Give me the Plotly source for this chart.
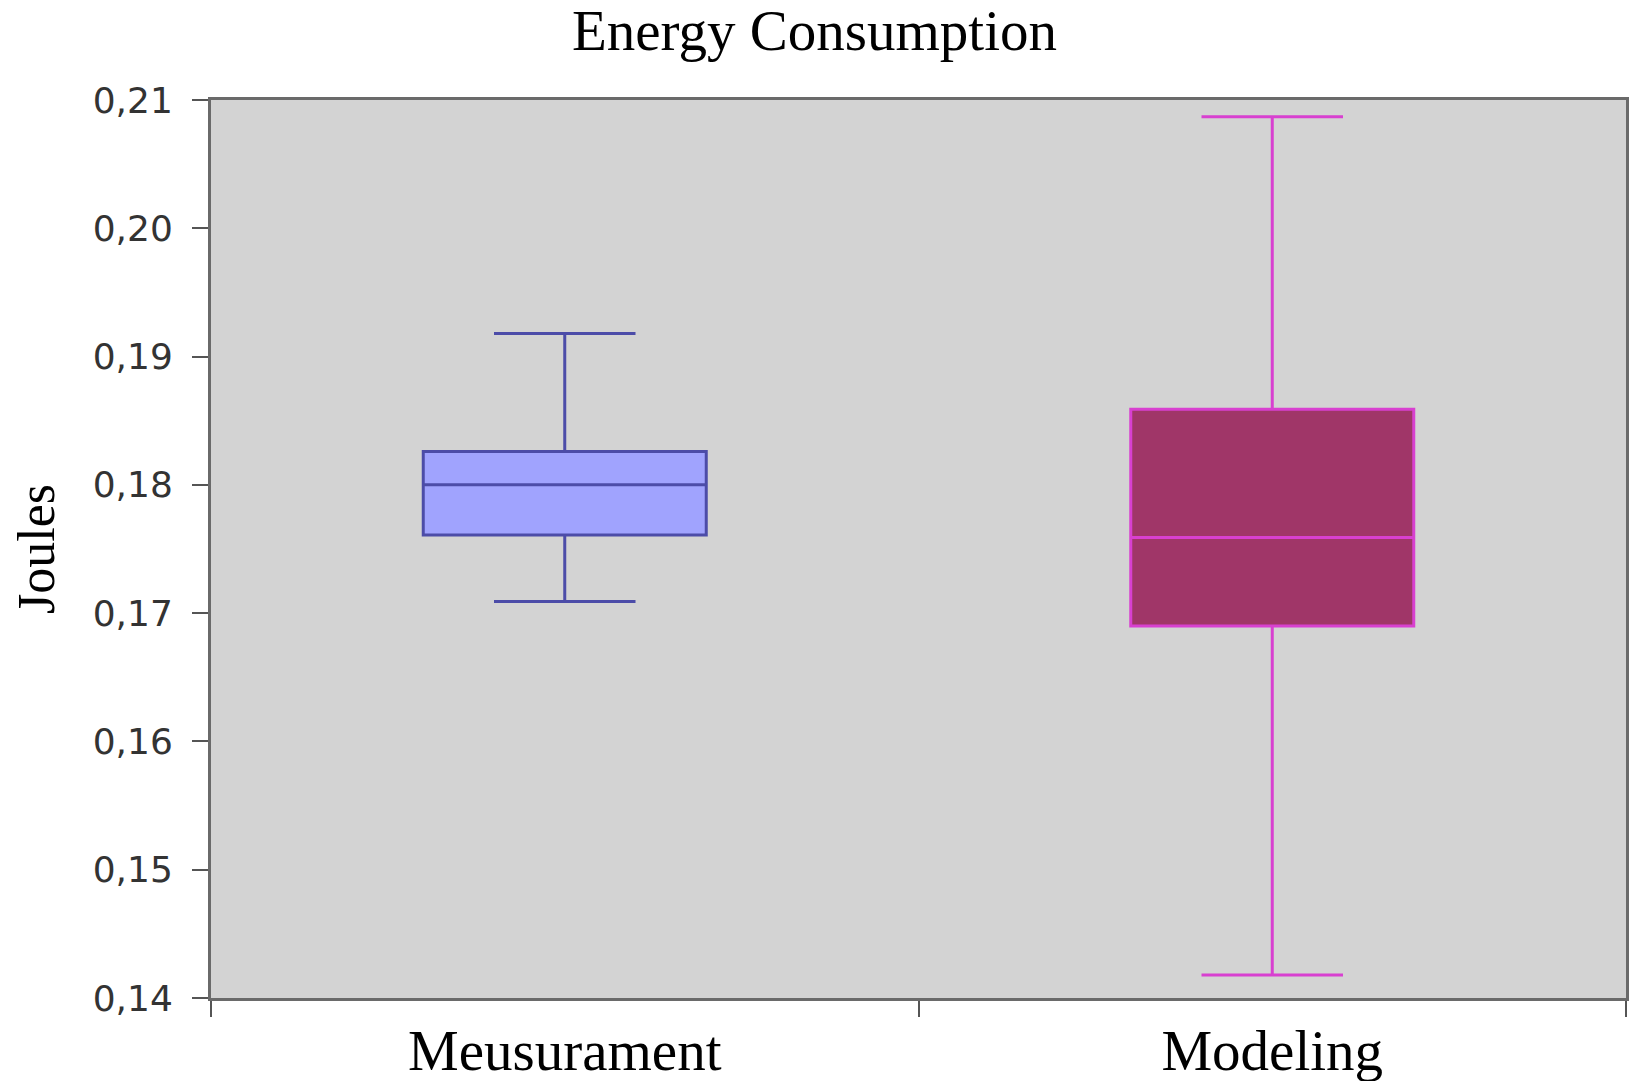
import plotly.graph_objects as go

categories = ["Meusurament", "Modeling"]
q1 = [0.1761, 0.1690]
median = [0.1800, 0.1759]
q3 = [0.1826, 0.1859]
lowerfence = [0.1709, 0.1418]
upperfence = [0.1918, 0.2087]
fill_colors = ["#a0a3fe", "#a03668"]
line_colors = ["#4c4ca8", "#d840d0"]
y_ticks = [0.14, 0.15, 0.16, 0.17, 0.18, 0.19, 0.20, 0.21]

fig = go.Figure()
for i, cat in enumerate(categories):
    fig.add_trace(go.Box(
        x=[cat], q1=[q1[i]], median=[median[i]], q3=[q3[i]],
        lowerfence=[lowerfence[i]], upperfence=[upperfence[i]],
        fillcolor=fill_colors[i], line=dict(color=line_colors[i], width=3),
        width=0.4, whiskerwidth=0.5, boxpoints=False, showlegend=False,
        hoverinfo="skip",
    ))

fig.update_layout(
    width=1629, height=1081,
    margin=dict(l=211, r=3, t=100, b=83),
    paper_bgcolor="white", plot_bgcolor="#d3d3d3",
    separators=",.",
    title=dict(text="Energy Consumption", x=0.5, xref="container", xanchor="center",
               y=0.972, yref="container", yanchor="middle",
               font=dict(family="Liberation Serif", size=57, color="black")),
)
fig.update_xaxes(
    type="category", range=[-0.5, 1.5], tickson="boundaries",
    ticks="outside", ticklen=16, tickwidth=2, tickcolor="#555555",
    showline=True, linecolor="#6a6a6a", linewidth=3, mirror=True,
    showgrid=False, zeroline=False, automargin=False,
    tickfont=dict(family="Liberation Serif", size=57, color="black"),
    ticklabelstandoff=1,
)
fig.update_yaxes(
    range=[0.14, 0.21], tickvals=y_ticks, tickformat=".2f",
    ticks="outside", ticklen=16, tickwidth=2, tickcolor="#555555",
    showline=True, linecolor="#6a6a6a", linewidth=3, mirror=True,
    showgrid=False, zeroline=False, automargin=False,
    tickfont=dict(family="DejaVu Sans", size=36, color="#333333"),
    ticklabelstandoff=12,
    title=dict(text="Joules", standoff=22,
               font=dict(family="Liberation Serif", size=52, color="black")),
)

fig.write_html("out.html", config={"displayModeBar": False},
               post_script="document.body.style.margin='0px';")
